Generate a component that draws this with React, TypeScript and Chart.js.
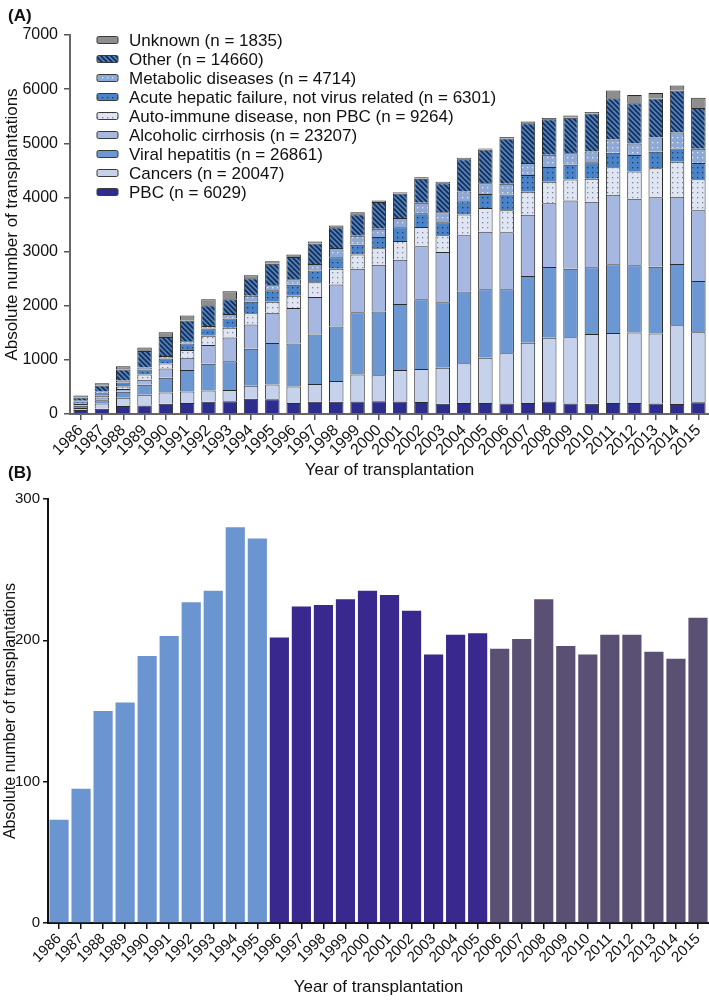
import React, { useEffect, useRef } from "react";
import { Chart, registerables } from "chart.js";

Chart.register(...registerables);

// ---------- DATA ----------
const years = [
  "1986", "1987", "1988", "1989", "1990", "1991", "1992", "1993", "1994", "1995",
  "1996", "1997", "1998", "1999", "2000", "2001", "2002", "2003", "2004", "2005",
  "2006", "2007", "2008", "2009", "2010", "2011", "2012", "2013", "2014", "2015",
];

const pbc = [73, 95, 150, 156, 189, 203, 227, 235, 280, 272, 202, 224, 225, 229, 235, 232, 221, 190, 204, 205, 194, 201, 229, 196, 190, 204, 204, 192, 187, 216];
const cancers = [40, 100, 150, 200, 207, 214, 207, 207, 244, 275, 305, 330, 385, 500, 482, 580, 610, 665, 733, 836, 928, 1117, 1178, 1221, 1288, 1294, 1300, 1294, 1453, 1294];
const viral = [40, 60, 110, 183, 275, 397, 494, 531, 683, 763, 793, 916, 1007, 1148, 1178, 1221, 1288, 1209, 1325, 1264, 1184, 1233, 1306, 1264, 1233, 1270, 1245, 1233, 1129, 946];
const alcoholic = [30, 50, 50, 92, 171, 226, 348, 439, 445, 562, 659, 690, 775, 806, 861, 818, 977, 928, 1038, 1062, 1050, 1129, 1178, 1264, 1209, 1282, 1227, 1282, 1245, 1306];
const autoImmune = [20, 30, 50, 100, 92, 140, 171, 183, 207, 201, 226, 275, 293, 262, 305, 342, 360, 311, 384, 440, 409, 427, 397, 384, 427, 507, 501, 537, 647, 574];
const acute = [25, 50, 70, 92, 92, 122, 134, 171, 214, 214, 201, 214, 208, 183, 208, 256, 250, 238, 244, 256, 287, 305, 275, 275, 305, 269, 305, 305, 244, 299];
const metabolic = [15, 30, 40, 37, 43, 43, 43, 79, 110, 92, 104, 122, 171, 165, 153, 171, 195, 183, 183, 201, 201, 226, 226, 214, 195, 244, 214, 262, 293, 262];
const other = [60, 110, 200, 305, 354, 384, 385, 275, 323, 397, 409, 378, 385, 397, 495, 452, 446, 537, 592, 623, 836, 733, 653, 653, 702, 763, 745, 720, 775, 757];
const unknown = [40, 45, 60, 61, 85, 92, 110, 146, 55, 43, 49, 37, 31, 37, 25, 25, 25, 30, 30, 18, 25, 30, 25, 43, 30, 140, 153, 104, 92, 189];

const seriesLabels = [
  "PBC (n = 6029)",
  "Cancers (n = 20047)",
  "Viral hepatitis (n = 26861)",
  "Alcoholic cirrhosis (n = 23207)",
  "Auto-immune disease, non PBC (n = 9264)",
  "Acute hepatic failure, not virus related (n = 6301)",
  "Metabolic diseases (n = 4714)",
  "Other (n = 14660)",
  "Unknown (n = 1835)",
];

const yTicksA = [0, 1000, 2000, 3000, 4000, 5000, 6000, 7000];
const yTicksB = [0, 100, 200, 300];

// ---------- STYLE ----------
const SANS = "'Liberation Sans', Arial, Helvetica, sans-serif";

function hatchPattern(bg: string, fg: string) {
  const s = 5;
  const c = document.createElement("canvas");
  c.width = s;
  c.height = s;
  const g = c.getContext("2d")!;
  g.fillStyle = bg;
  g.fillRect(0, 0, s, s);
  g.strokeStyle = fg;
  g.lineWidth = 1.8;
  g.beginPath();
  for (const k of [-s, 0, s]) {
    g.moveTo(k - 1, -1);
    g.lineTo(k + s + 1, s + 1);
  }
  g.stroke();
  return g.createPattern(c, "repeat")!;
}

function dotPattern(bg: string, fg: string) {
  const c = document.createElement("canvas");
  c.width = 5;
  c.height = 5;
  const g = c.getContext("2d")!;
  g.fillStyle = bg;
  g.fillRect(0, 0, 5, 5);
  g.fillStyle = fg;
  g.fillRect(2, 2, 1.3, 1.3);
  return g.createPattern(c, "repeat")!;
}

const insideLegend = {
  id: "insideLegend",
  afterDraw(chart: any) {
    const { ctx, chartArea } = chart;
    const ds = chart.data.datasets;
    ctx.save();
    ctx.font = `17px ${SANS}`;
    ctx.textBaseline = "middle";
    ctx.textAlign = "left";
    const x0 = chartArea.left + 27;
    const y0 = chartArea.top + 5;
    for (let i = 0; i < ds.length; i++) {
      const d = ds[ds.length - 1 - i];
      const y = y0 + i * 19;
      ctx.beginPath();
      ctx.roundRect(x0, y - 3.5, 21, 7, 1.5);
      ctx.fillStyle = d.backgroundColor;
      ctx.fill();
      ctx.strokeStyle = "#3a3a3a";
      ctx.lineWidth = 1;
      ctx.stroke();
      ctx.fillStyle = "#111";
      ctx.fillText(d.label, x0 + 32, y + 1);
    }
    ctx.restore();
  },
};

const plainNumber = (v: any) => String(v);

export default function App() {
  const refA = useRef<HTMLCanvasElement>(null);
  const refB = useRef<HTMLCanvasElement>(null);

  useEffect(() => {
    const fills = [
      "#2c2d8f",
      "#c6d2ec",
      "#6b97d3",
      "#a6b8e1",
      dotPattern("#dfe5f3", "#7d879c"),
      dotPattern("#4a83c7", "#183b6e"),
      dotPattern("#8fa9d7", "#e2e9f6"),
      hatchPattern("#5283c2", "#172f54"),
      "#8e8e8e",
    ];
    const series = [pbc, cancers, viral, alcoholic, autoImmune, acute, metabolic, other, unknown];

    const chartA = new Chart(refA.current!, {
      type: "bar",
      data: {
        labels: years,
        datasets: series.map((data, i) => ({
          label: seriesLabels[i],
          data,
          backgroundColor: fills[i] as any,
          borderColor: "#2a2a2a",
          borderWidth: 1,
          barPercentage: 0.68,
          categoryPercentage: 1,
        })),
      },
      options: {
        responsive: false,
        animation: false,
        devicePixelRatio: 1,
        layout: { padding: { top: 35, right: 0, bottom: 0, left: 0 } },
        plugins: { legend: { display: false }, tooltip: { enabled: false } },
        scales: {
          x: {
            stacked: true,
            grid: { display: true, drawOnChartArea: false, drawTicks: true, tickLength: 6, color: "#555", lineWidth: 1.5, offset: false },
            border: { display: true, color: "#666", width: 2 },
            ticks: { minRotation: 45, maxRotation: 45, autoSkip: false, color: "#111", padding: 1, font: { family: SANS, size: 16 } },
            title: { display: true, text: "Year of transplantation", color: "#111", font: { family: SANS, size: 17 }, padding: { top: 0, bottom: 4 } },
            afterFit(s: any) {
              s.height = 71;
              s.paddingLeft = 0;
              s.paddingRight = 0;
            },
          },
          y: {
            stacked: true,
            min: 0,
            max: 7000,
            afterBuildTicks(s: any) {
              s.ticks = yTicksA.map((v) => ({ value: v }));
            },
            grid: { display: true, drawOnChartArea: false, drawTicks: true, tickLength: 6, color: "#555", lineWidth: 1.5 },
            border: { display: true, color: "#666", width: 2 },
            ticks: { color: "#111", padding: 6, font: { family: SANS, size: 16 }, callback: plainNumber },
            title: { display: true, text: "Absolute number of transplantations", color: "#111", font: { family: SANS, size: 17 }, padding: { top: 2, bottom: 0 } },
            afterFit(s: any) {
              s.width = 70;
              s.paddingTop = 0;
              s.paddingBottom = 0;
            },
          },
        },
      },
      plugins: [insideLegend],
    });

    const periodColors = ["#6b95d0", "#39298f", "#5a5074"];
    const barColors = years.map((y) => {
      const n = Number(y);
      return n <= 1995 ? periodColors[0] : n <= 2005 ? periodColors[1] : periodColors[2];
    });

    const chartB = new Chart(refB.current!, {
      type: "bar",
      data: {
        labels: years,
        datasets: [
          {
            label: "PBC",
            data: pbc,
            backgroundColor: barColors,
            borderWidth: 0,
            barPercentage: 0.87,
            categoryPercentage: 1,
          },
        ],
      },
      options: {
        responsive: false,
        animation: false,
        devicePixelRatio: 1,
        layout: { padding: { top: 14, right: 0, bottom: 0, left: 0 } },
        plugins: { legend: { display: false }, tooltip: { enabled: false } },
        scales: {
          x: {
            grid: { display: true, drawOnChartArea: false, drawTicks: true, tickLength: 6, color: "#111", lineWidth: 1.5, offset: false },
            border: { display: true, color: "#111", width: 2 },
            ticks: { minRotation: 45, maxRotation: 45, autoSkip: false, color: "#111", padding: 1, font: { family: SANS, size: 15 } },
            title: { display: true, text: "Year of transplantation", color: "#111", font: { family: SANS, size: 17 }, padding: { top: 0, bottom: 2 } },
            afterFit(s: any) {
              s.height = 77;
              s.paddingLeft = 0;
              s.paddingRight = 0;
            },
          },
          y: {
            min: 0,
            max: 300,
            afterBuildTicks(s: any) {
              s.ticks = yTicksB.map((v) => ({ value: v }));
            },
            grid: { display: true, drawOnChartArea: false, drawTicks: true, tickLength: 5, color: "#111", lineWidth: 1.5 },
            border: { display: true, color: "#111", width: 2 },
            ticks: { color: "#111", padding: 3, font: { family: SANS, size: 15 }, callback: plainNumber },
            title: { display: true, text: "Absolute number of transplantations", color: "#111", font: { family: SANS, size: 16 }, padding: { top: 1, bottom: 0 } },
            afterFit(s: any) {
              s.width = 48;
              s.paddingTop = 0;
              s.paddingBottom = 0;
            },
          },
        },
      },
    });

    return () => {
      chartA.destroy();
      chartB.destroy();
    };
  }, []);

  const panelLabel: React.CSSProperties = {
    position: "absolute",
    left: 8,
    fontFamily: SANS,
    fontWeight: "bold",
    fontSize: 17,
    color: "#111",
    lineHeight: "20px",
  };

  return (
    <div style={{ position: "absolute", left: 0, top: 0, width: 709, height: 1000, background: "#fff", overflow: "hidden" }}>
      <canvas ref={refA} width={709} height={485} style={{ position: "absolute", left: 0, top: 0 }} />
      <canvas ref={refB} width={709} height={515} style={{ position: "absolute", left: 0, top: 485 }} />
      <div style={{ ...panelLabel, top: 6 }}>(A)</div>
      <div style={{ ...panelLabel, top: 463 }}>(B)</div>
    </div>
  );
}
